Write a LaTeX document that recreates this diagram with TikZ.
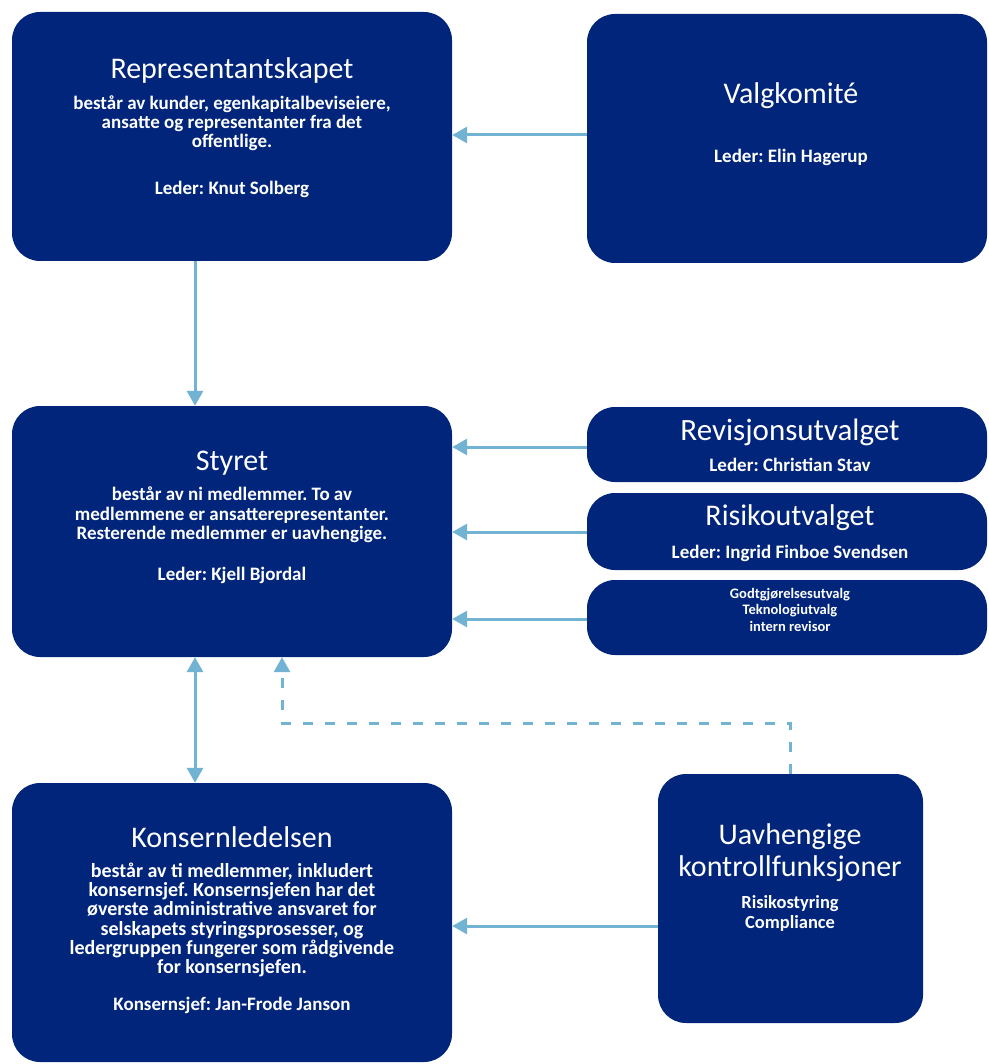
\documentclass[tikz,border=0pt]{standalone}
\usepackage{fontspec}
\setmainfont{Carlito}
\frenchspacing
\usetikzlibrary{arrows.meta}
\definecolor{navy}{HTML}{00257A}
\definecolor{lblue}{HTML}{72B2D3}
\begin{document}
\begin{tikzpicture}[x=1pt,y=-1pt,
  box/.style={fill=navy, draw=none, rounded corners=28pt, inner sep=0pt},
  ttl/.style={text=white, font=\fontsize{30}{32}\selectfont, inner sep=0pt, align=center},
  bodytxt/.style={text=white, font=\bfseries\fontsize{19}{19}\selectfont, inner sep=0pt, align=center},
  smalltxt/.style={text=white, font=\bfseries\fontsize{14.5}{16.5}\selectfont, inner sep=0pt, align=center},
  arr/.style={draw=lblue, line width=3pt, -{Triangle[length=15pt,width=16pt]}},
  darr/.style={draw=lblue, line width=3pt, {Triangle[length=15pt,width=16pt]}-{Triangle[length=15pt,width=16pt]}},
  dasharr/.style={draw=lblue, line width=3pt, dash pattern=on 10pt off 12pt, -{Triangle[length=15pt,width=16pt]}}
]
\useasboundingbox (0,0) rectangle (988,1064);
% boxes
\node[box, minimum width=440pt, minimum height=249pt] (rep) at (232,136.5) {};
\node[box, minimum width=400pt, minimum height=249pt] (valg) at (787,138.5) {};
\node[box, minimum width=440pt, minimum height=251pt] (styret) at (232,531.5) {};
\node[box, minimum width=400pt, minimum height=75pt] (rev) at (787,444.5) {};
\node[box, minimum width=400pt, minimum height=77pt] (risk) at (787,531.5) {};
\node[box, minimum width=400pt, minimum height=75pt] (godt) at (787,617.5) {};
\node[box, minimum width=440pt, minimum height=279pt] (kons) at (232,922.5) {};
\node[box, minimum width=265pt, minimum height=249pt] (uavh) at (790.5,898.5) {};
% texts
\node[ttl] (repT) at (232,71) {Representantskapet};
\node[bodytxt] (repB) at (232,123.5) {består av kunder, egenkapitalbeviseiere,\\ansatte og representanter fra det\\offentlige.};
\node[bodytxt] (repL) at (232,189) {Leder: Knut Solberg};
\node[ttl] (valgT) at (791,96) {Valgkomité};
\node[bodytxt] (valgL) at (791,157) {Leder: Elin Hagerup};
\node[ttl] (styT) at (232,463) {Styret};
\node[bodytxt, font=\bfseries\fontsize{19}{19.5}\selectfont] (styB) at (232,515) {består av ni medlemmer. To av\\medlemmene er ansatterepresentanter.\\Resterende medlemmer er uavhengige.};
\node[bodytxt] (styL) at (232,575.5) {Leder: Kjell Bjordal};
\node[ttl, font=\fontsize{31}{32}\selectfont] (revT) at (790,432) {Revisjonsutvalget};
\node[bodytxt] (revL) at (790,465) {Leder: Christian Stav};
\node[ttl] (riskT) at (790,518) {Risikoutvalget};
\node[bodytxt] (riskL) at (790,553) {Leder: Ingrid Finboe Svendsen};
\node[smalltxt] (godtB) at (790,609.5) {Godtgjørelsesutvalg\\Teknologiutvalg\\intern revisor};
\node[ttl] (konsT) at (232,837) {Konsernledelsen};
\node[bodytxt, font=\bfseries\fontsize{20}{19.2}\selectfont] (konsB) at (232,920) {består av ti medlemmer, inkludert\\konsernsjef. Konsernsjefen har det\\øverste administrative ansvaret for\\selskapets styringsprosesser, og\\ledergruppen fungerer som rådgivende\\for konsernsjefen.};
\node[bodytxt] (konsL) at (232,1005) {Konsernsjef: Jan-Frode Janson};
\node[ttl] (uavhT) at (790,853) {Uavhengige\\kontrollfunksjoner};
\node[bodytxt, font=\bfseries\fontsize{18.5}{20}\selectfont] (uavhB) at (790,913) {Risikostyring\\Compliance};
% connectors
\draw[arr] (valg.west |- 0,135) -- (rep.east |- 0,135);
\draw[arr] (rep.south -| 195,0) -- (styret.north -| 195,0);
\draw[arr] (rev.west |- 0,447) -- (styret.east |- 0,447);
\draw[arr] (risk.west |- 0,532) -- (styret.east |- 0,532);
\draw[arr] (godt.west |- 0,619) -- (styret.east |- 0,619);
\draw[darr] (styret.south -| 195,0) -- (kons.north -| 195,0);
\coordinate (dk) at (282,723);
\draw[dasharr] (uavh.north) |- (dk) -- (styret.south -| dk);
\draw[arr] (uavh.west |- 0,926) -- (kons.east |- 0,926);
\end{tikzpicture}
\end{document}
